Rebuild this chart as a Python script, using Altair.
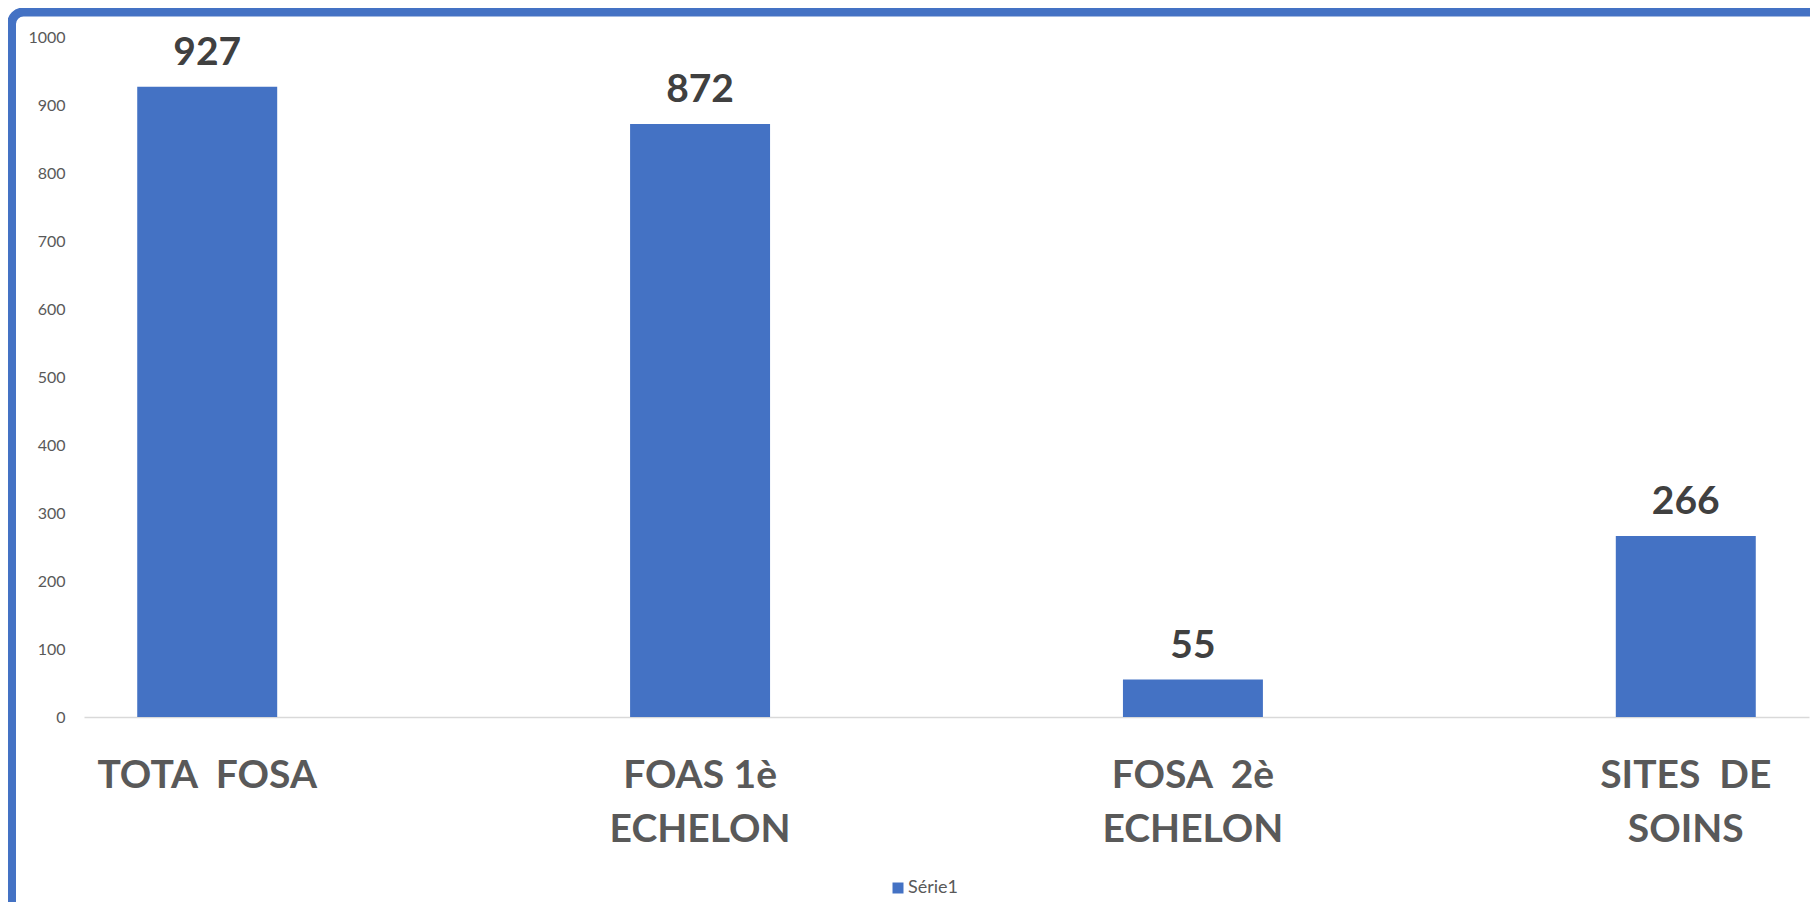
import altair as alt
import pandas as pd

categories = ["TOTA  FOSA", "FOAS 1è|ECHELON", "FOSA  2è|ECHELON", "SITES  DE|SOINS"]
values = [927, 872, 55, 266]
series = ["Série1", "Série1", "Série1", "Série1"]
y_ticks = [0, 100, 200, 300, 400, 500, 600, 700, 800, 900, 1000]

df = pd.DataFrame({"cat": categories, "val": values, "series": series})
FONT = "Lato"
BLUE = "#4472C4"

x_enc = alt.X(
    "cat:N",
    sort=categories,
    scale=alt.Scale(paddingInner=0.716, paddingOuter=0.108),
    axis=alt.Axis(
        title=None,
        labelAngle=0,
        labelFont=FONT,
        labelFontSize=39,
        labelFontWeight="bold",
        labelColor="#595959",
        labelExpr="split(replace(datum.label, '  ', '\u00a0 '), '|')",
        labelLineHeight=54,
        labelBaseline="top",
        labelPadding=39,
        ticks=False,
        tickSize=0,
        domainColor="#D9D9D9",
        domainWidth=1.5,
        labelLimit=400,
    ),
)
y_enc = alt.Y(
    "val:Q",
    scale=alt.Scale(domain=[0, 1000], nice=False),
    axis=alt.Axis(
        title=None,
        values=y_ticks,
        format="d",
        labelFont=FONT,
        labelFontSize=16,
        labelColor="#595959",
        labelPadding=19,
        ticks=False,
        tickSize=0,
        domain=False,
        grid=False,
    ),
)

base = alt.Chart(df)
bars = base.mark_bar(color=BLUE).encode(
    x=x_enc,
    y=y_enc,
    color=alt.Color(
        "series:N",
        scale=alt.Scale(range=[BLUE]),
        legend=alt.Legend(
            title=None,
            orient="none",
            legendX=805,
            legendY=842,
            symbolType="square",
            symbolSize=121,
            symbolStrokeWidth=0,
            labelFont=FONT,
            labelFontSize=18,
            labelColor="#595959",
            padding=0,
            labelOffset=1,
        ),
    ),
)
labels = base.mark_text(
    font=FONT, fontSize=39, fontWeight="bold", color="#404040",
    baseline="alphabetic", dy=-22,
).encode(x=alt.X("cat:N", sort=categories), y="val:Q", text="val:Q")

frame = alt.Chart(pd.DataFrame({"a": [0]})).mark_rect(
    filled=False, stroke=BLUE, strokeWidth=9, cornerRadius=12
).encode(
    x=alt.value(-72.5), x2=alt.value(1740), y=alt.value(-25), y2=alt.value(880)
)

chart = alt.layer(frame, bars, labels).properties(
    width=1725, height=680,
    autosize=alt.AutoSizeParams(type="none"),
    padding={"left": 76, "top": 29, "right": 1, "bottom": 185},
).configure(background="white").configure_view(stroke=None)

chart.save("out.html", embed_options={"renderer": "svg", "actions": False})
